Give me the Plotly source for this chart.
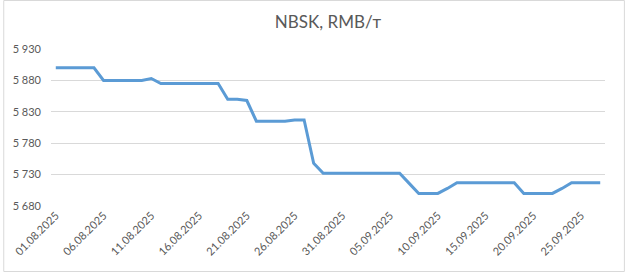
import plotly.graph_objects as go
import pandas as pd

title = "NBSK, RMB/т"
start_date = "2025-08-01"
prices = [
    5900, 5900, 5900, 5900, 5900,          # 01-05.08
    5880, 5880, 5880, 5880, 5880,          # 06-10.08
    5883, 5875, 5875, 5875, 5875,          # 11-15.08
    5875, 5875, 5875, 5850, 5850,          # 16-20.08
    5848, 5815, 5815, 5815, 5815,          # 21-25.08
    5817, 5817, 5748, 5732, 5732,          # 26-30.08
    5732, 5732, 5732, 5732, 5732,          # 31.08-04.09
    5732, 5732, 5716, 5700, 5700,          # 05-09.09
    5700, 5708, 5717, 5717, 5717,          # 10-14.09
    5717, 5717, 5717, 5717, 5700,          # 15-19.09
    5700, 5700, 5700, 5708, 5717,          # 20-24.09
    5717, 5717, 5717,                      # 25-27.09
]
dates = pd.date_range(start_date, periods=len(prices), freq="D")
y_ticks = [5680, 5730, 5780, 5830, 5880, 5930]
y_tick_labels = ["5 680", "5 730", "5 780", "5 830", "5 880", "5 930"]
x_ticks = pd.date_range(start_date, "2025-09-25", freq="5D")
x_tick_labels = [d.strftime("%d.%m.%Y") for d in x_ticks]

W, H = 625, 272
L, R, T, B = 48, 20, 49, 66
pw, ph = W - L - R, H - T - B

fig = go.Figure()
fig.add_trace(go.Scatter(
    x=dates, y=prices, mode="lines",
    line=dict(color="#5B9BD5", width=3),
    hoverinfo="skip", showlegend=False,
))

font_family = "Lato, Open Sans, sans-serif"
fig.update_layout(
    width=W, height=H,
    margin=dict(l=L, r=R, t=T, b=B),
    paper_bgcolor="white", plot_bgcolor="white",
    font=dict(family=font_family, color="#595959", size=11),
    title=dict(text=title, x=0.5, xref="paper", xanchor="center",
               y=1 - 22 / H, yanchor="middle",
               font=dict(size=17, color="#595959", family=font_family)),
    xaxis=dict(
        type="date",
        range=[dates[0] - pd.Timedelta(hours=12), dates[-1] + pd.Timedelta(hours=12)],
        tickvals=x_ticks, ticktext=x_tick_labels, tickangle=-45,
        showgrid=False, showline=False, zeroline=False, ticks="",
        tickfont=dict(size=11, color="#595959"),
    ),
    yaxis=dict(
        range=[5680, 5930], tickvals=y_ticks, ticktext=y_tick_labels,
        showgrid=True, gridcolor="#D9D9D9", gridwidth=1,
        zeroline=False, showline=False, ticks="",
        tickfont=dict(size=11, color="#595959"),
        ticklabelstandoff=9,
    ),
)

fig.add_shape(type="rect", xref="paper", yref="paper",
              x0=(0.5 - L) / pw, x1=(W - 0.5 - L) / pw,
              y0=-(H - 0.5 - (T + ph)) / ph, y1=(T + ph - 0.5) / ph,
              line=dict(color="#D9D9D9", width=1), layer="below")

fig.write_html("out.html")
